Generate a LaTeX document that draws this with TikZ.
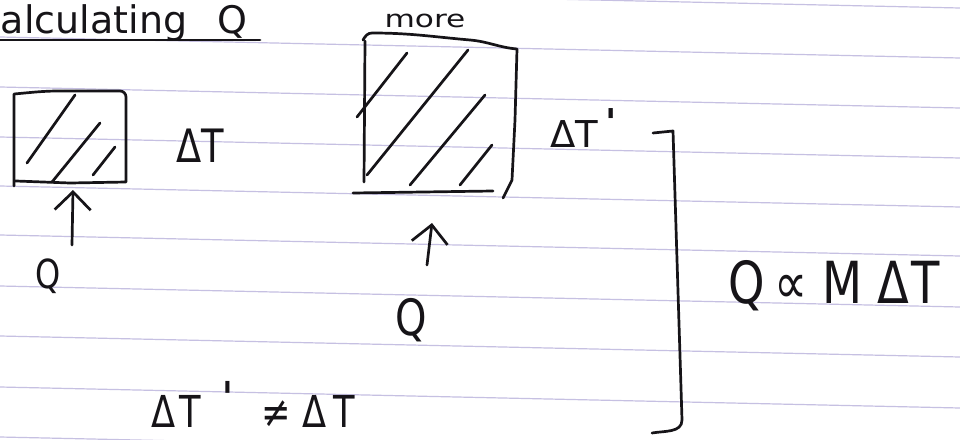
\documentclass[tikz,border=0pt]{standalone}
\usepackage{fontspec}
\setmainfont{DejaVu Sans}
\newfontfamily\hw[FakeStretch=0.8]{DejaVu Sans}
\newfontfamily\hwn{DejaVu Sans}
\newfontfamily\hwwide[FakeStretch=1.3]{DejaVu Sans}
\usetikzlibrary{arrows.meta}
\definecolor{ink}{RGB}{22,20,24}
\definecolor{rulec}{RGB}{198,192,226}
\newcommand{\prm}[1]{\raisebox{#1}{\bfseries\char"0027}}
\tikzset{
  pen/.style={draw=ink,line width=2.7pt,line cap=round,line join=round},
  hand/.style={text=ink,inner sep=0pt,outer sep=0pt},
  ruleline/.style={draw=rulec,line width=1.2pt},
  uparrow/.style={pen,-{Straight Barb[length=18pt,width=36pt]}},
}
\begin{document}
\begin{tikzpicture}[x=1pt,y=-1pt]
\useasboundingbox (0,0) rectangle (960,439);
\fill[white] (0,0) rectangle (960,439);
% ruled paper
\foreach \yy in {-13,37,87,137,186,235,286,336,387,437}
  \draw[ruleline] (0,\yy) -- (960,\yy+21);

% title
\node[hand,anchor=base west,font=\fontsize{38}{42}\selectfont] (title) at (1,33) {alculating\hspace{30pt}Q};
\draw[pen] (0,40) -- (260,40);

% small box
\draw[pen] (14,186) -- (14,94) to[out=5,in=180] (60,91) -- (120,91) to[out=0,in=90] (126,97)
  -- (126,182) -- (70,183) -- (16,181);
\draw[pen] (27,163) -- (75,95);
\draw[pen] (52,182) -- (100,123);
\draw[pen] (93,175) -- (115,147);
\node[hand,anchor=base west,font=\hw\fontsize{46}{50}\selectfont] (dt1) at (176,162) {ΔT};

% arrow and Q under small box
\coordinate (tip1) at (73,190);
\coordinate (tail1) at (72,245);
\draw[uparrow] (tail1) -- (tip1);
\node[hand,font=\hw\fontsize{40}{44}\selectfont] (q1) at (48,276) {Q};

% big box
\node[hand,font=\hwwide\fontsize{24}{28}\selectfont] (more) at (425,21) {more};
\draw[pen] (363,40) to[out=60,in=180] (372,33) to[out=0,in=175] (470,40) to[out=-5,in=175] (517,49)
  -- (515,120) -- (512,180) -- (503,198);
\draw[pen] (365,41) -- (364,182);
\draw[pen] (353,193) -- (493,191);
\draw[pen] (357,117) -- (407,53);
\draw[pen] (367,175) -- (468,50);
\draw[pen] (410,185) -- (485,95);
\draw[pen] (460,185) -- (492,145);
\node[hand,anchor=base west,font=\hwn\fontsize{37}{40}\selectfont] (dt2) at (550,147) {ΔT\hspace{8pt}\prm{12pt}};

% arrow and Q under big box
\coordinate (tip2) at (432,223);
\coordinate (tail2) at (427,265);
\draw[uparrow] (tail2) -- (tip2);
\node[hand,font=\hw\fontsize{50}{54}\selectfont] (q2) at (411,320) {Q};

% bracket
\coordinate (br1) at (653,133);
\coordinate (br2) at (673,131);
\coordinate (br3) at (682,420);
\coordinate (br4) at (652,433);
\draw[pen] (br1) -- (br2) -- (br3) to[out=-90,in=10] (br4);

% relation
\node[hand,anchor=base west,font=\hw\fontsize{58}{62}\selectfont] (rel) at (728,303)
  {Q\hspace{10pt}∝\hspace{15pt}M\hspace{15pt}Δ\hspace{2pt}T};

% inequality
\node[hand,anchor=base west,font=\hw\fontsize{44}{48}\selectfont] (neq) at (151,427)
  {Δ\hspace{4pt}T\hspace{22pt}\prm{14pt}\hspace{28pt}≠\hspace{12pt}Δ\hspace{7pt}T};
\end{tikzpicture}
\end{document}
